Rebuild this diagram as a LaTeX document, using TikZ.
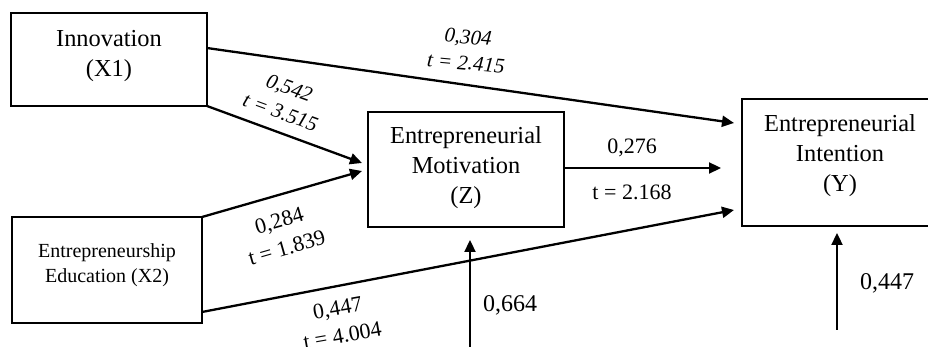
\documentclass[tikz,border=0pt]{standalone}
\usepackage{fontspec}
\setmainfont{Liberation Serif}
\usetikzlibrary{arrows.meta,calc}
\begin{document}
\begin{tikzpicture}[x=0.5pt,y=-0.5pt,
  box/.style={draw,line width=1.45pt,outer sep=0pt,inner sep=0pt},
  txt/.style={align=center,inner sep=0pt,font=\fontsize{12.2}{15}\selectfont},
  arr/.style={line width=1.15pt,-{Triangle[length=6pt,width=5.5pt]}},
  lab/.style={align=center,inner sep=0pt,font=\fontsize{11}{14}\selectfont},
  ilab/.style={align=center,inner sep=0pt,font=\fontsize{10.5}{13}\selectfont\itshape}]
\clip (0,0) rectangle (928,347);
% boxes
\node[box,minimum width=98pt,minimum height=46.5pt] (X1) at (109,59.5) {};
\node[txt] (X1t) at (109,56) {Innovation\\(X1)};
\node[box,minimum width=95pt,minimum height=53pt] (X2) at (107,270) {};
\node[txt,font=\fontsize{10}{12.5}\selectfont] (X2t) at (107,265) {Entrepreneurship\\Education (X2)};
\node[box,minimum width=98pt,minimum height=57.5pt] (Z) at (466,169.5) {};
\node[txt] (Zt) at (466,168) {Entrepreneurial\\Motivation\\(Z)};
\node[box,minimum width=98pt,minimum height=63.5pt] (Y) at (840,162.5) {};
\node[txt] (Yt) at (840,156) {Entrepreneurial\\Intention\\(Y)};
% arrows
\draw[arr] ($(X1.east)+(0,-11.5)$) -- ($(Y.west)+(-8,-39.5)$);
\draw[arr] (X1.south east) -- ($(Z.west)+(-6,-6.5)$);
\draw[arr] (X2.north east) -- ($(Z.west)+(-6,1.5)$);
\draw[arr] ($(Z.east)+(0,-1.5)$) -- ($(Y.west)+(-21,5.5)$);
\draw[arr] ($(X2.east)+(0,42)$) -- ($(Y.west)+(-8,47.5)$);
\coordinate (eZ) at (470,347);
\draw[arr] (eZ) -- ($(Z.south)+(4,13)$);
\coordinate (eY) at (837,330);
\draw[arr] (eY) -- ($(Y.south)+(-3,7)$);
% labels
\node[ilab,rotate=-5] (l1) at (467,50) {0,304\\t = 2.415};
\node[ilab,rotate=-20] (l2) at (285,100) {0,542\\t = 3.515};
\node[lab,rotate=16] (l3) at (283,234) {0,284\\t = 1.839};
\node[lab,rotate=10] (l4) at (340,322) {0,447\\t = 4.004};
\node[lab] (l5) at (632,148) {0,276};
\node[lab] (l6) at (632,192) {t = 2.168};
\node[lab,font=\fontsize{12}{14}\selectfont] (l7) at (510,305) {0,664};
\node[lab,font=\fontsize{12}{14}\selectfont] (l8) at (887,283) {0,447};
\end{tikzpicture}
\end{document}
